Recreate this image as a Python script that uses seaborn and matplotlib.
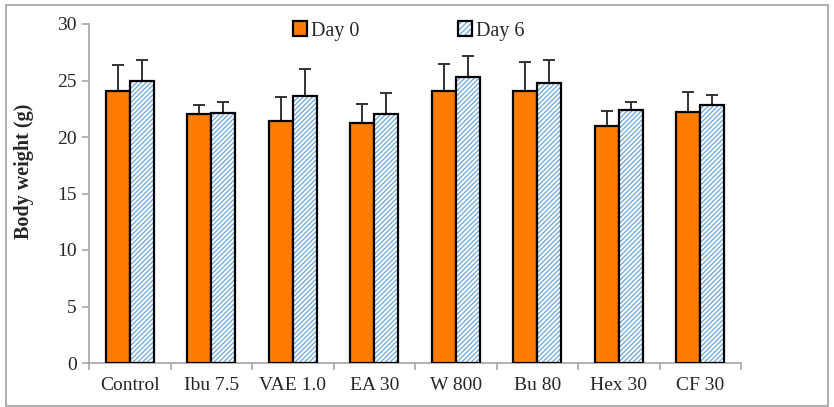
import numpy as np
import pandas as pd
import matplotlib
matplotlib.use("Agg")
import matplotlib.pyplot as plt
from matplotlib.patches import Rectangle
import seaborn as sns

groups = ["Control", "Ibu 7.5", "VAE 1.0", "EA 30", "W 800", "Bu 80", "Hex 30", "CF 30"]
day0_mean = [24.1, 22.0, 21.4, 21.2, 24.1, 24.1, 21.0, 22.25]
day0_sd = [2.3, 0.8, 2.1, 1.7, 2.4, 2.55, 1.3, 1.7]
day6_mean = [25.0, 22.15, 23.6, 22.0, 25.3, 24.8, 22.35, 22.8]
day6_sd = [1.8, 0.95, 2.4, 1.9, 1.85, 2.0, 0.75, 0.95]
series = ["Day 0", "Day 6"]

df = pd.DataFrame({
    "group": groups * 2,
    "day": [series[0]] * len(groups) + [series[1]] * len(groups),
    "weight": day0_mean + day6_mean,
    "sd": day0_sd + day6_sd,
})

sns.set_theme(style="white")
plt.rcParams["font.family"] = ["Liberation Serif", "DejaVu Serif"]
plt.rcParams["hatch.linewidth"] = 0.9

fig = plt.figure(figsize=(8.34, 4.07), dpi=100)
ax = fig.add_axes([89 / 834, 44 / 407, 652 / 834, 339 / 407])

orange = "#FF7C00"
blue = "#6AA7DC"
sns.barplot(data=df, x="group", y="weight", hue="day", order=groups,
            hue_order=series, palette=[orange, "white"], width=0.59,
            errorbar=None, legend=False, ax=ax, saturation=1)

n = len(groups)
bars0 = ax.patches[:n]
bars6 = ax.patches[n:2 * n]
for p in bars0:
    p.set_edgecolor("black")
    p.set_linewidth(1.6)
    p.set_zorder(3)
for p in bars6:
    p.set_facecolor("white")
    p.set_hatch("///////")
    p.set_edgecolor(blue)
    p.set_linewidth(0)
    p.set_zorder(3)
    ax.add_patch(Rectangle((p.get_x(), p.get_y()), p.get_width(), p.get_height(),
                           fill=False, edgecolor="black", linewidth=1.6, zorder=4))

# upper error bars only
for bars, sd in ((bars0, day0_sd), (bars6, day6_sd)):
    xs = [p.get_x() + p.get_width() / 2 for p in bars]
    ys = [p.get_height() for p in bars]
    ax.errorbar(xs, ys, yerr=[np.zeros(n), sd], fmt="none", ecolor="#333333",
                elinewidth=1.4, capsize=4, capthick=1.4, zorder=2)

ax.set_xlim(-0.5, n - 0.5)
ax.set_ylim(0, 30)
ax.set_yticks(np.arange(0, 31, 5))
ax.set_xticks(range(n))
ax.set_xticklabels(groups)
ax.set_xticks(np.arange(-0.5, n, 1), minor=True)
ax.set_xlabel("")
ax.set_ylabel("Body weight (g)", fontsize=14.5, fontweight="bold")
ax.yaxis.set_label_coords(-0.085, 0.565)

spine_c = "#A6A6A6"
for s in ("top", "right"):
    ax.spines[s].set_visible(False)
for s in ("left", "bottom"):
    ax.spines[s].set_color(spine_c)
    ax.spines[s].set_linewidth(1.2)
ax.tick_params(axis="y", which="major", direction="out", length=5, width=1.2,
               color=spine_c, labelsize=14, left=True, pad=4)
ax.tick_params(axis="x", which="major", length=0, labelsize=14, pad=10)
ax.tick_params(axis="x", which="minor", direction="out", length=5, width=1.2,
               color=spine_c, bottom=True)

# legend across the top
h0 = Rectangle((0, 0), 1, 1, facecolor=orange, edgecolor="black", linewidth=1.6)
h6 = Rectangle((0, 0), 1, 1, facecolor="white", edgecolor=blue, hatch="//////", linewidth=0)
h6b = Rectangle((0, 0), 1, 1, fill=False, edgecolor="black", linewidth=1.6)
leg = fig.legend([h0, (h6, h6b)], series, loc="center left",
                 bbox_to_anchor=(293 / 834, 1 - 31 / 407), ncol=2, frameon=False,
                 fontsize=14.5, handlelength=0.7, handleheight=0.7, handletextpad=0.2,
                 columnspacing=4.9, borderaxespad=0, borderpad=0)

# figure frame
fig.patches.append(Rectangle((6 / 834, 1.5 / 407), 822 / 834, 401 / 407,
                             transform=fig.transFigure, fill=False,
                             edgecolor="#A0A0A0", linewidth=1.2))

fig.savefig("out.png", dpi=100)
